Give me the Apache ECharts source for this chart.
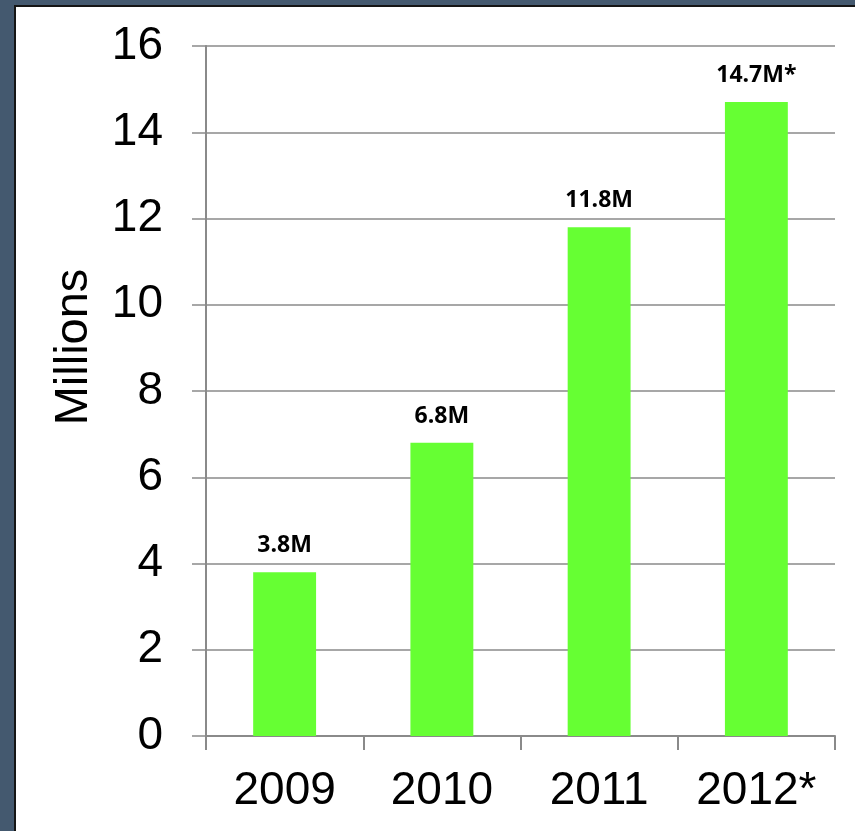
<!DOCTYPE html>
<html>
<head>
<meta charset="utf-8">
<style>
  html, body { margin: 0; padding: 0; background: #44596f; }
  #chart { width: 855px; height: 831px; }
</style>
<script src="https://cdn.jsdelivr.net/npm/echarts@6/dist/echarts.min.js"></script>
</head>
<body>
<div id="chart"></div>
<script>
// Yearly totals, in millions
const years = ['2009', '2010', '2011', '2012*'];
const totals = [3.8, 6.8, 11.8, 14.7];
const valueLabels = ['3.8M', '6.8M', '11.8M', '14.7M*'];
const yTicks = [0, 2, 4, 6, 8, 10, 12, 14, 16];

const chart = echarts.init(document.getElementById('chart'), null, { renderer: 'canvas' });

const axisGray = '#8a8a8a';

chart.setOption({
  backgroundColor: '#44596f',
  animation: false,
  graphic: [
    {
      type: 'rect',
      z: -10,
      shape: { x: 15, y: 6, width: 900, height: 900 },
      style: { fill: '#ffffff', stroke: '#151515', lineWidth: 2 }
    },
    {
      type: 'text',
      x: 74,
      y: 347,
      rotation: Math.PI / 2,
      style: {
        text: 'Millions',
        font: '47px "Liberation Sans", Arial, sans-serif',
        fill: '#000000',
        align: 'center',
        verticalAlign: 'middle'
      }
    }
  ],
  grid: { left: 206, right: 20, top: 46, bottom: 95, containLabel: false },
  xAxis: {
    type: 'category',
    data: years,
    boundaryGap: true,
    axisLine: { show: true, lineStyle: { color: axisGray, width: 2 } },
    axisTick: { show: true, inside: false, length: 14, alignWithLabel: false, lineStyle: { color: axisGray, width: 2 } },
    axisLabel: {
      margin: 32,
      color: '#000000',
      fontSize: 46,
      fontFamily: '"Liberation Sans", Arial, sans-serif'
    },
    splitLine: { show: false }
  },
  yAxis: {
    type: 'value',
    min: yTicks[0],
    max: yTicks[yTicks.length - 1],
    interval: 2,
    axisLine: { show: true, lineStyle: { color: axisGray, width: 2 } },
    axisTick: { show: true, inside: false, length: 14, lineStyle: { color: axisGray, width: 1.5 } },
    axisLabel: {
      margin: 43,
      color: '#000000',
      fontSize: 46,
      fontFamily: '"Liberation Sans", Arial, sans-serif'
    },
    splitLine: { show: true, lineStyle: { color: axisGray, width: 1.5 } }
  },
  series: [
    {
      type: 'bar',
      data: totals,
      barWidth: '40%',
      itemStyle: { color: '#66ff33' },
      label: {
        show: true,
        position: 'top',
        distance: 15,
        color: '#000000',
        fontSize: 23,
        fontWeight: 'bold',
        fontFamily: '"Open Sans", sans-serif',
        formatter: (p) => valueLabels[p.dataIndex]
      }
    }
  ]
});
</script>
</body>
</html>
